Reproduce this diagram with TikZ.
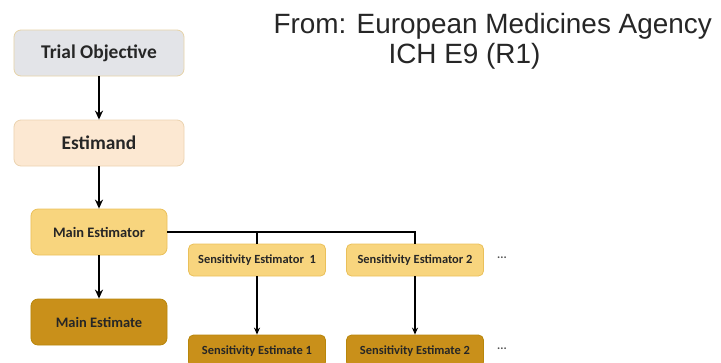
\documentclass[tikz,border=0pt]{standalone}
\usepackage{fontspec}
\setmainfont{Liberation Sans}
\newfontfamily\boxfont{Carlito}
\usetikzlibrary{arrows.meta}
\definecolor{objfill}{HTML}{E3E4E8}
\definecolor{objline}{HTML}{E6D3A8}
\definecolor{andfill}{HTML}{FCE8D2}
\definecolor{andline}{HTML}{EBD3B0}
\definecolor{torfill}{HTML}{F8D57E}
\definecolor{torline}{HTML}{EAC05A}
\definecolor{matefill}{HTML}{C9901A}
\definecolor{mateline}{HTML}{B8860B}
\definecolor{ink}{HTML}{262626}
\begin{document}
\begin{tikzpicture}[x=1bp, y=-1bp]
    \tikzstyle{box}=[rectangle, draw, rounded corners=7bp, line width=0.8bp,
                            text=ink, inner sep=0pt]
    \tikzstyle{big}=[box, minimum width=170bp, minimum height=46bp,
                            font=\boxfont\bfseries\fontsize{19.5}{22}\selectfont]
    \tikzstyle{mid}=[box, minimum width=136bp, minimum height=46bp,
                            font=\boxfont\bfseries\fontsize{14.5}{17}\selectfont]
    \tikzstyle{small}=[box, rounded corners=5bp, minimum width=137bp, minimum height=32bp,
                            font=\boxfont\bfseries\fontsize{12.5}{15}\selectfont]
    \tikzstyle{more}=[font=\boxfont\bfseries\fontsize{12}{14}\selectfont, text=ink!80]
    \tikzstyle{main}=[line width=2bp, -{Stealth[length=9bp, width=8bp]}]
    \tikzstyle{side}=[line width=1.4bp]
    \clip (0,0) rectangle (721,362);

    \node[anchor=base west, font=\fontsize{28}{32}\selectfont, text=ink] (src) at (270,33) {From: European Medicines Agency};
    \node[anchor=base west, font=\fontsize{28}{32}\selectfont, text=ink] (doc) at (385,63) {ICH E9 (R1)};

    \node[big, fill=objfill, draw=objline] (obj) at (99,53) {Trial Objective};
    \node[big, fill=andfill, draw=andline] (est) at (99,143) {Estimand};
    \node[mid, fill=torfill, draw=torline] (mtor) at (99,232) {Main Estimator};
    \node[mid, fill=matefill, draw=mateline] (mate) at (99,322) {Main Estimate};

    \node[small, fill=torfill, draw=torline] (stor1) at (257,260) {Sensitivity Estimator\ \ 1};
    \node[small, fill=torfill, draw=torline] (stor2) at (415,260) {Sensitivity Estimator 2};
    \node[small, fill=matefill, draw=mateline] (smate1) at (257,351) {Sensitivity Estimate 1};
    \node[small, fill=matefill, draw=mateline] (smate2) at (415,351) {Sensitivity Estimate 2};
    \node[more] (dots1) at (502,258) {...};
    \node[more] (dots2) at (502,349) {...};

    \path[main] (obj) edge (est) (est) edge (mtor) (mtor) edge (mate);

    \coordinate (fork) at (stor1.north |- mtor.east);
    \draw[side] (mtor.east) -| (stor2.north);
    \draw[side] (fork) -- (stor1.north);
    \path[side, -{Stealth[length=7bp, width=6bp]}] (stor1) edge (smate1) (stor2) edge (smate2);
\end{tikzpicture}
\end{document}
